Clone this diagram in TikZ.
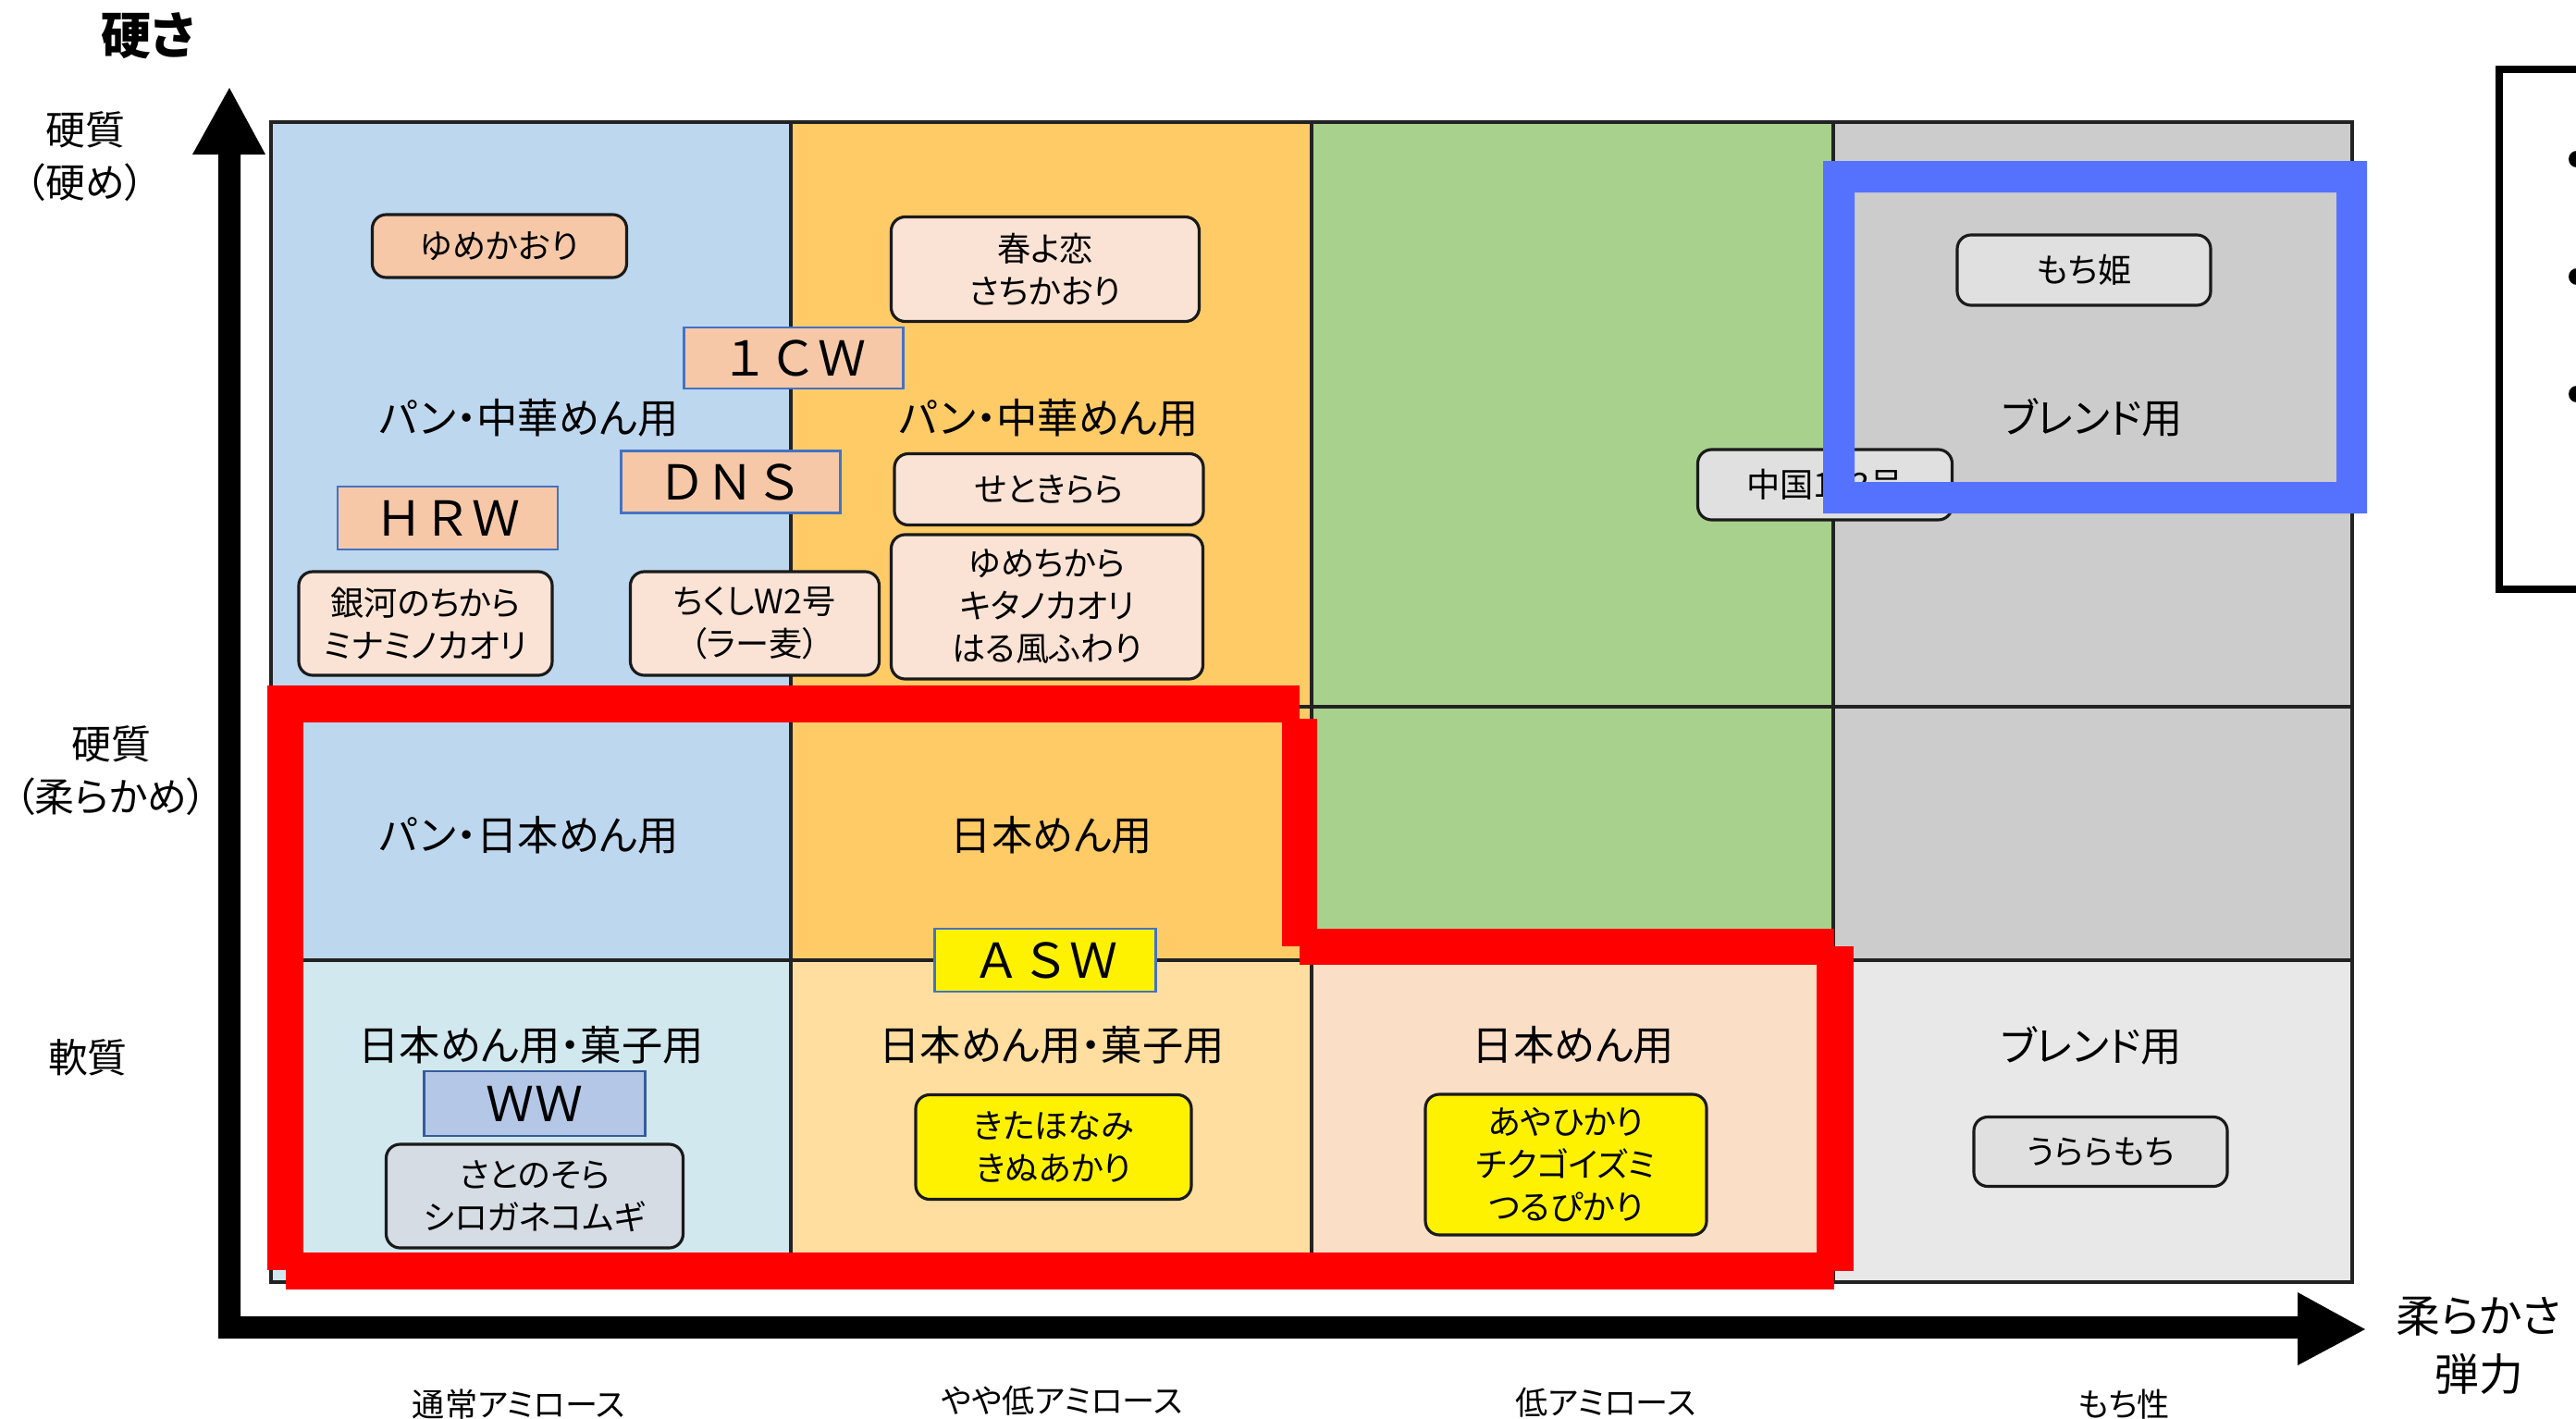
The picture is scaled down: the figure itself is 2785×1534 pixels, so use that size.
\documentclass[tikz,border=0pt]{standalone}
\usepackage{fontspec}
\setmainfont{Noto Sans CJK JP}[RawFeature=+palt]
\newfontfamily\fwfont{Noto Sans CJK JP}
\definecolor{cblue}{HTML}{BDD7EE}
\definecolor{cblue3}{HTML}{D1E8EE}
\definecolor{corange}{HTML}{FFCB66}
\definecolor{corange3}{HTML}{FFDE9F}
\definecolor{cgreen}{HTML}{A9D18E}
\definecolor{cpeach3}{HTML}{FADEC6}
\definecolor{cgray}{HTML}{CCCCCC}
\definecolor{cgray3}{HTML}{E8E8E8}
\definecolor{darkpeach}{HTML}{F6C8A8}
\definecolor{lightpeach}{HTML}{FAE3D5}
\definecolor{boxgray}{HTML}{E0E0E0}
\definecolor{boxblue}{HTML}{D6DCE4}
\definecolor{wwblue}{HTML}{B4C7E7}
\definecolor{lettline}{HTML}{4472C4}
\definecolor{boxline}{HTML}{1A1A1A}
\definecolor{gridc}{HTML}{222222}
\definecolor{hlblue}{HTML}{5572FF}
\tikzset{
  lbl/.style={inner sep=0pt, font=\fontsize{12.6}{15}\selectfont},
  vbox/.style={draw=boxline, line width=0.9pt, rounded corners=1.5mm, inner sep=0pt, align=center, font=\fontsize{10.3}{13.1}\selectfont},
  lettbox/.style={draw=lettline, line width=0.7pt, inner sep=0pt, font=\fwfont\fontsize{14.8}{16}\selectfont},
  axlbl/.style={inner sep=0pt, align=center, font=\fontsize{12.2}{16.2}\selectfont},
  botlbl/.style={inner sep=0pt, font=\fontsize{10}{12}\selectfont},
  gridline/.style={draw=gridc, line width=0.9pt},
}
\begin{document}
\begin{tikzpicture}[x=0.1mm,y=-0.1mm]
\useasboundingbox (0,0) rectangle (2785,1534);
\fill[white] (0,0) rectangle (2785,1534);

% cells
\fill[cblue] (293,132) rectangle (855,1038);
\fill[cblue3] (293,1038) rectangle (855,1386);
\fill[corange] (855,132) rectangle (1418,1038);
\fill[corange3] (855,1038) rectangle (1418,1386);
\fill[cgreen] (1418,132) rectangle (1982,1038);
\fill[cpeach3] (1418,1038) rectangle (1982,1386);
\fill[cgray] (1982,132) rectangle (2543,1038);
\fill[cgray3] (1982,1038) rectangle (2543,1386);
% grid lines
\draw[gridline] (293,132) rectangle (2543,1386);
\draw[gridline] (855,132) -- (855,1386);
\draw[gridline] (1418,132) -- (1418,1386);
\draw[gridline] (1982,132) -- (1982,1386);
\draw[gridline] (293,764) -- (2543,764);
\draw[gridline] (293,1038) -- (2543,1038);

% cell labels
\node[lbl] (l11) at (572,452) {パン・中華めん用};
\node[lbl] (l12) at (1134,452) {パン・中華めん用};
\node[lbl] (l14) at (2262,451) {ブレンド用};
\node[lbl] (l21) at (572,903) {パン・日本めん用};
\node[lbl] (l22) at (1137,903) {日本めん用};
\node[lbl] (l31) at (574,1130) {日本めん用・菓子用};
\node[lbl] (l32) at (1137,1130) {日本めん用・菓子用};
\node[lbl] (l33) at (1701,1130) {日本めん用};
\node[lbl] (l34) at (2261,1130) {ブレンド用};

% variety boxes
\node[vbox, fill=darkpeach, minimum width=27.5mm, minimum height=6.8mm] (yumekaori) at (540,266) {ゆめかおり};
\node[vbox, fill=lightpeach, minimum width=27.4mm, minimum height=11.2mm] (ginga) at (460,674) {銀河のちから\\ミナミノカオリ};
\node[vbox, fill=lightpeach, minimum width=26.9mm, minimum height=11.2mm] (chikushi) at (816,674) {ちくしW2号\\（ラー麦）};
\node[vbox, fill=lightpeach, minimum width=33.3mm, minimum height=11.3mm] (haruyokoi) at (1130,291) {春よ恋\\さちかおり};
\node[vbox, fill=lightpeach, minimum width=33.4mm, minimum height=7.7mm] (setokirara) at (1134,529) {せときらら};
\node[vbox, fill=lightpeach, minimum width=33.7mm, minimum height=15.6mm] (yumechikara) at (1132,656) {ゆめちから\\キタノカオリ\\はる風ふわり};
\node[vbox, fill=boxgray, minimum width=27.5mm, minimum height=7.6mm] (chugoku) at (1973,524) {中国163号};
\node[vbox, fill=boxgray, minimum width=27.4mm, minimum height=7.6mm] (mochihime) at (2253,292) {もち姫};
\node[vbox, fill=boxblue, minimum width=32.1mm, minimum height=11.2mm] (satonosora) at (578,1293) {さとのそら\\シロガネコムギ};
\node[vbox, fill=yellow, minimum width=29.8mm, minimum height=11.3mm] (kitahonami) at (1139,1240) {きたほなみ\\きぬあかり};
\node[vbox, fill=yellow, minimum width=30.4mm, minimum height=15.2mm] (ayahikari) at (1693,1259) {あやひかり\\チクゴイズミ\\つるぴかり};
\node[vbox, fill=boxgray, minimum width=27.4mm, minimum height=7.5mm] (uraramochi) at (2271,1245) {うららもち};

% class boxes
\node[lettbox, fill=darkpeach, minimum width=23.7mm, minimum height=6.6mm] (cw) at (858,387) {１ＣＷ};
\node[lettbox, fill=darkpeach, minimum width=23.7mm, minimum height=6.7mm] (dns) at (790,521) {ＤＮＳ};
\node[lettbox, fill=darkpeach, minimum width=23.8mm, minimum height=6.8mm] (hrw) at (484,560) {ＨＲＷ};
\node[lettbox, fill=wwblue, draw=lettline!80!black, minimum width=23.9mm, minimum height=7.0mm] (ww) at (578,1193) {ＷＷ};
\node[lettbox, fill=yellow, minimum width=23.9mm, minimum height=6.8mm] (asw) at (1130,1038) {ＡＳＷ};

% axes
\fill[black] (236,1447) -- (236,167) -- (208,167) -- (248,95) -- (287,167) -- (260,167)
  -- (260,1423) -- (2484,1423) -- (2484,1397) -- (2557,1437) -- (2484,1476) -- (2484,1447) -- cycle;
\node[inner sep=0pt, font=\fontsize{15.4}{18}\selectfont\bfseries] (katasa) at (160,39) {硬さ};
\node[axlbl] (ax1) at (92,169) {硬質\\（硬め）};
\node[axlbl] (ax2) at (120,833) {硬質\\（柔らかめ）};
\node[axlbl] (ax3) at (95,1143) {軟質};
\node[axlbl, font=\fontsize{13.6}{18}\selectfont] (ax4) at (2680,1455) {柔らかさ\\弾力};
\node[botlbl] (b1) at (561,1518) {通常アミロース};
\node[botlbl] (b2) at (1148,1514) {やや低アミロース};
\node[botlbl] (b3) at (1736,1516) {低アミロース};
\node[botlbl] (b4) at (2296,1518) {もち性};

% red highlight
\fill[red] (289,741) rectangle (1405,781);
\fill[red] (289,741) rectangle (328,1373);
\fill[red] (309,1354) rectangle (1983,1394);
\fill[red] (1386,777) rectangle (1424,1023);
\fill[red] (1405,1004) rectangle (1983,1043);
\fill[red] (1964,1023) rectangle (2004,1374);

% blue highlight
\fill[hlblue, even odd rule] (1971,174) rectangle (2559,555) (2005,208) rectangle (2526,521);

% legend box (cut off)
\draw[black, line width=2.3pt] (2702,75) rectangle (2820,637);
\fill[black] (2786,172) circle (9);
\fill[black] (2786,299) circle (9);
\fill[black] (2786,426) circle (9);
\end{tikzpicture}
\end{document}
